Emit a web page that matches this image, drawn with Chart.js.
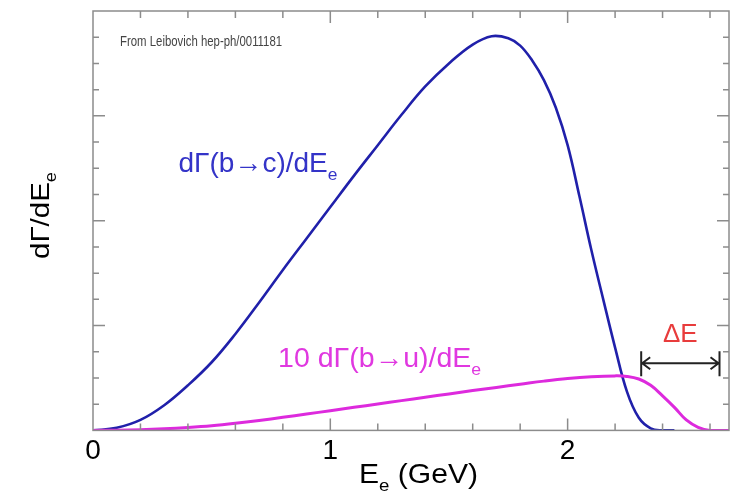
<!DOCTYPE html>
<html>
<head>
<meta charset="utf-8">
<script src="https://cdn.jsdelivr.net/npm/chart.js@4.4.1/dist/chart.umd.min.js"></script>
<style>
  body { margin: 0; background: #fff; }
  canvas { display: block; }
</style>
</head>
<body>
<canvas id="spectre" width="733" height="492"></canvas>
<script>
// Energie de l'electron (GeV) et spectres
var energieBC = [0, 0.1, 0.2, 0.3, 0.4, 0.5, 0.6, 0.7, 0.8, 0.9, 1.0, 1.1, 1.2, 1.3, 1.4, 1.5, 1.6, 1.68, 1.75, 1.8, 1.85, 1.9, 1.95, 2.0, 2.05, 2.1, 2.15, 2.2, 2.25, 2.3, 2.35, 2.4, 2.45];
var spectreBC = [0, 0.025, 0.1, 0.24, 0.43, 0.65, 0.92, 1.22, 1.53, 1.83, 2.13, 2.43, 2.72, 3.01, 3.28, 3.5, 3.68, 3.76, 3.74, 3.67, 3.53, 3.34, 3.08, 2.72, 2.23, 1.72, 1.25, 0.79, 0.37, 0.12, 0.02, 0, 0];

var energieBU = [0, 0.1, 0.2, 0.3, 0.4, 0.5, 0.6, 0.7, 0.8, 0.9, 1.0, 1.1, 1.2, 1.3, 1.4, 1.5, 1.6, 1.7, 1.8, 1.9, 2.0, 2.1, 2.2, 2.25, 2.3, 2.35, 2.4, 2.45, 2.5, 2.55, 2.6, 2.68];
var spectreBU = [0, 0.001, 0.006, 0.015, 0.028, 0.045, 0.068, 0.095, 0.125, 0.156, 0.188, 0.22, 0.252, 0.284, 0.316, 0.348, 0.38, 0.41, 0.44, 0.47, 0.495, 0.512, 0.52, 0.515, 0.49, 0.43, 0.33, 0.22, 0.1, 0.03, 0, 0];

// Graduations
var xMajeures = [0, 1, 2];
var xPas = 0.2;
var yMajeures = [1, 2, 3];
var yPas = 0.25;

// Fenetre Delta E
var deltaE = [2.31, 2.64];
var hauteurDeltaE = 0.64;

var police = '"Liberation Sans", Arial, Helvetica, sans-serif';

function points(xs, ys) {
    return xs.map(function(x, i) { return { x: x, y: ys[i] }; });
}

function largeurRiche(ctx, morceaux, taille) {
    var w = 0;
    ctx.save();
    morceaux.forEach(function(m) {
        ctx.font = (m.indice ? taille * 0.62 : taille) + 'px ' + police;
        w += ctx.measureText(m.t).width;
    });
    ctx.restore();
    return w;
}

// Ecrit un texte avec indice (ex: dE_e), etire a la largeur voulue
function texteRiche(ctx, morceaux, x, y, taille, couleur, largeur) {
    var w = largeurRiche(ctx, morceaux, taille);
    var k = largeur ? largeur / w : 1;
    ctx.save();
    ctx.translate(x, y);
    ctx.scale(k, 1);
    ctx.fillStyle = couleur;
    ctx.textBaseline = 'alphabetic';
    ctx.textAlign = 'left';
    var cx = 0;
    morceaux.forEach(function(m) {
        var t = m.indice ? taille * 0.62 : taille;
        ctx.font = t + 'px ' + police;
        ctx.fillText(m.t, cx, m.indice ? taille * 0.28 : 0);
        cx += ctx.measureText(m.t).width;
    });
    ctx.restore();
}

var cadre = {
    id: 'cadre',
    afterDraw: function(chart) {
        var ctx = chart.ctx;
        var a = chart.chartArea;
        var sx = chart.scales.x;
        var sy = chart.scales.y;

        ctx.save();
        ctx.strokeStyle = '#8c8c8c';
        ctx.lineWidth = 1.5;
        ctx.strokeRect(a.left, a.top, a.right - a.left, a.bottom - a.top);

        // graduations vers l'interieur, sur les 4 cotes
        ctx.beginPath();
        for (var v = xPas; v < sx.max; v += xPas) {
            var px = sx.getPixelForValue(v);
            var maj = Math.abs(v - Math.round(v)) < 1e-6;
            var l = maj ? 12 : 7;
            ctx.moveTo(px, a.bottom); ctx.lineTo(px, a.bottom - l);
            ctx.moveTo(px, a.top); ctx.lineTo(px, a.top + l);
        }
        for (var w = yPas; w < sy.max; w += yPas) {
            var py = sy.getPixelForValue(w);
            var majY = yMajeures.indexOf(Math.round(w * 100) / 100) >= 0;
            var ly = majY ? 12 : 6;
            ctx.moveTo(a.left, py); ctx.lineTo(a.left + ly, py);
            ctx.moveTo(a.right, py); ctx.lineTo(a.right - ly, py);
        }
        ctx.stroke();
        ctx.restore();

        // source
        texteRiche(ctx, [{ t: 'From Leibovich hep-ph/0011181' }],
            sx.getPixelForValue(0.114), sy.getPixelForValue(3.67), 14, '#444', 162);

        // etiquettes des courbes
        texteRiche(ctx, [{ t: 'dΓ(b→c)/dE' }, { t: 'e', indice: true }],
            sx.getPixelForValue(0.36), sy.getPixelForValue(2.46), 28, '#3434c8', 159);
        texteRiche(ctx, [{ t: '10 dΓ(b→u)/dE' }, { t: 'e', indice: true }],
            sx.getPixelForValue(0.78), sy.getPixelForValue(0.6), 28, '#e038e0', 203);

        // Delta E
        var x1 = sx.getPixelForValue(deltaE[0]);
        var x2 = sx.getPixelForValue(deltaE[1]);
        var ya = sy.getPixelForValue(hauteurDeltaE);
        ctx.save();
        ctx.fillStyle = '#e83c3c';
        ctx.font = '26px ' + police;
        ctx.textAlign = 'center';
        ctx.fillText('ΔE', (x1 + x2) / 2, ya - 21);
        ctx.strokeStyle = '#222';
        ctx.lineWidth = 2;
        ctx.beginPath();
        ctx.moveTo(x1, ya - 12); ctx.lineTo(x1, ya + 13);
        ctx.moveTo(x2, ya - 12); ctx.lineTo(x2, ya + 13);
        ctx.moveTo(x1, ya); ctx.lineTo(x2, ya);
        ctx.moveTo(x1 + 9, ya - 6); ctx.lineTo(x1 + 1, ya); ctx.lineTo(x1 + 9, ya + 6);
        ctx.moveTo(x2 - 9, ya - 6); ctx.lineTo(x2 - 1, ya); ctx.lineTo(x2 - 9, ya + 6);
        ctx.stroke();
        ctx.restore();

        // titres des axes
        texteRiche(ctx, [{ t: 'E' }, { t: 'e', indice: true }, { t: ' (GeV)' }],
            359, 483, 28, '#000', 119);

        ctx.save();
        ctx.translate(49, 216);
        ctx.rotate(-Math.PI / 2);
        texteRiche(ctx, [{ t: 'dΓ/dE' }, { t: 'e', indice: true }], -43, 0, 26, '#000', 87);
        ctx.restore();
    }
};

new Chart(document.getElementById('spectre'), {
    type: 'line',
    data: {
        datasets: [{
            label: '10 dΓ(b→u)/dEe',
            data: points(energieBU, spectreBU),
            borderColor: '#dd2add',
            borderWidth: 3,
            pointRadius: 0,
            fill: false,
            tension: 0.4
        }, {
            label: 'dΓ(b→c)/dEe',
            data: points(energieBC, spectreBC),
            borderColor: '#2020aa',
            borderWidth: 2.6,
            pointRadius: 0,
            fill: false,
            tension: 0.4
        }]
    },
    options: {
        responsive: false,
        animation: false,
        layout: { padding: { left: 93, right: 3, top: 11, bottom: 20 } },
        plugins: { legend: { display: false }, tooltip: { enabled: false } },
        scales: {
            x: {
                type: 'linear',
                min: 0,
                max: 2.68,
                grid: { display: false, drawTicks: false, tickLength: 0 },
                border: { display: false },
                ticks: {
                    stepSize: xPas,
                    autoSkip: false,
                    maxRotation: 0,
                    padding: 4,
                    color: '#000',
                    font: { size: 28, family: police },
                    callback: function(v) {
                        var r = Math.round(v);
                        return (Math.abs(v - r) < 1e-6 && xMajeures.indexOf(r) >= 0) ? String(r) : '';
                    }
                }
            },
            y: {
                min: 0,
                max: 4,
                display: false
            }
        }
    },
    plugins: [cadre]
});
</script>
</body>
</html>
